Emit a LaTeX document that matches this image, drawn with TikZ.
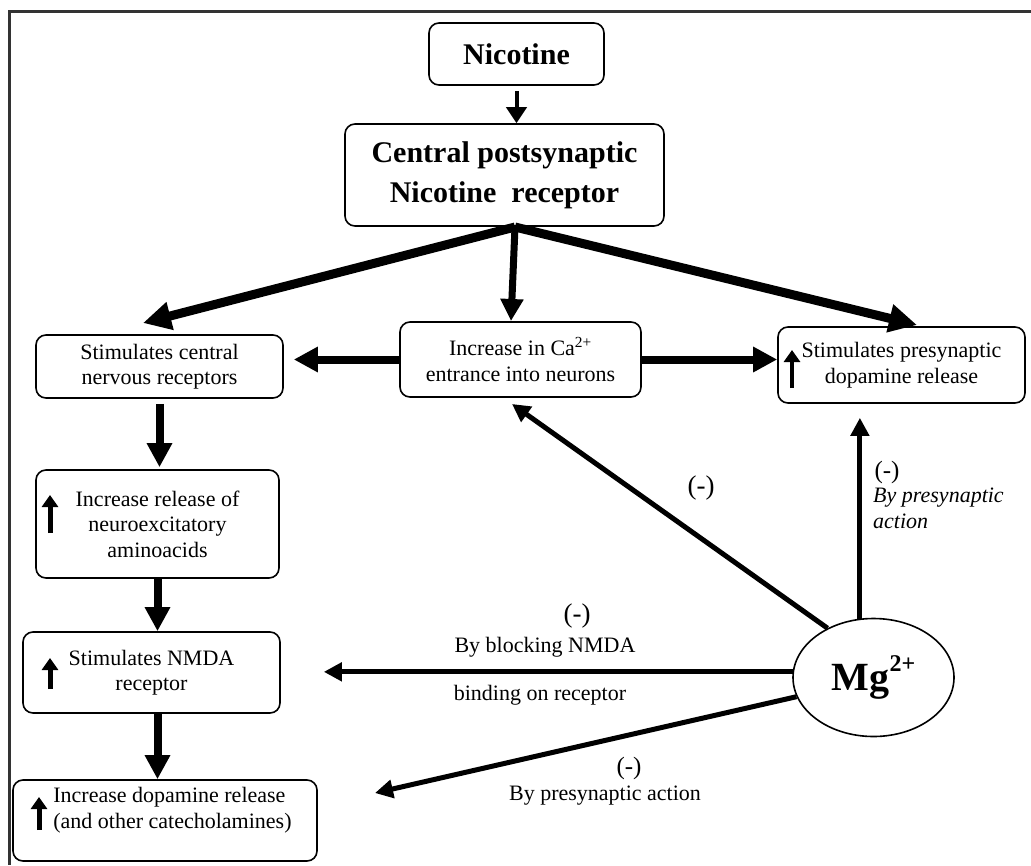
\documentclass[tikz,border=0pt]{standalone}
\usepackage{fontspec}
\setmainfont{Liberation Serif}
\usetikzlibrary{arrows.meta,shapes.geometric,calc}
\begin{document}
\begin{tikzpicture}[x=1pt,y=-1pt,
  boxnode/.style={draw, line width=1.6pt, rounded corners=10pt, align=center, inner sep=0pt,
    font=\fontsize{22}{25.5}\selectfont},
  headbox/.style={boxnode, font=\fontsize{30}{40}\selectfont\bfseries},
  fatarrow/.style={line width=8pt, -{Triangle[length=24pt,width=24pt]}},
  diagarrow/.style={line width=9pt, -{Triangle[length=28pt,width=27pt]}},
  midarrow/.style={line width=7pt, -{Triangle[length=22pt,width=22pt]}},
  thinarrow/.style={line width=4pt, -{Triangle[length=16pt,width=20pt]}},
  mgarrow/.style={line width=5pt, -{Triangle[length=18pt,width=18pt]}},
  uparrow/.style={line width=5pt, -{Triangle[length=12pt,width=16pt]}},
  lab/.style={inner sep=0pt, font=\fontsize{22}{25.5}\selectfont},
  minus/.style={inner sep=0pt},
]
\useasboundingbox (0,0) rectangle (1031,865);
% frame
\draw[line width=3pt, black!80] (1031,11) -- (9,11) -- (9,865);

% nodes
\node[headbox, minimum width=175pt, minimum height=62pt] (nic) at (516.5,54) {Nicotine};
\node[headbox, minimum width=319pt, minimum height=102pt] (central) at (504.5,175)
  {Central postsynaptic\\Nicotine\ \ receptor};
\node[boxnode, minimum width=247pt, minimum height=63pt] (stim) at (159.5,366.5)
  {Stimulates central\\nervous receptors};
\node[boxnode, minimum width=241pt, minimum height=75pt] (ca) at (520.5,359.5)
  {Increase in Ca\textsuperscript{2+}\\entrance into neurons};
\node[boxnode, minimum width=247pt, minimum height=76pt] (pre) at (901.5,365)
  {Stimulates presynaptic\\dopamine release};
\node[boxnode, minimum width=243pt, minimum height=108pt] (rel) at (157.5,524)
  {Increase release of\\neuroexcitatory\\aminoacids};
\node[boxnode, minimum width=257pt, minimum height=81pt] (nmda) at (151.5,672.5)
  {Stimulates NMDA\\receptor};
\node[boxnode, align=left, minimum width=304pt, minimum height=81pt] (dopa) at (165,820.5)
  {\hspace*{15pt}Increase dopamine release\\\hspace*{15pt}(and other catecholamines)\rule[-25pt]{0pt}{1pt}};
\node[draw, ellipse, line width=1.6pt, inner sep=0pt, minimum width=161pt, minimum height=118pt] (mg) at (873.5,677.5)
  {\fontsize{40}{44}\selectfont\bfseries Mg\raisebox{19pt}{\fontsize{24}{24}\selectfont 2+}};

% coordinates for free ends
\coordinate (apex) at (515,227);
\coordinate (tl) at (143,323);
\coordinate (tr) at (917,325);
\coordinate (tm) at (511,321);
\coordinate (tca) at (512,404);
\coordinate (tdop) at (375,793);

% connectors
\draw[thinarrow, shorten <=5pt] (nic.south) -- (nic.south |- central.north);
\draw[diagarrow] (apex) -- (tl);
\draw[diagarrow] (apex) -- (tr);
\draw[midarrow] (apex) -- (tm);
\draw[fatarrow, shorten >=10pt] (ca.west) -- (ca.west -| stim.east);
\draw[fatarrow] (ca.east) -- (ca.east -| pre.west);
\draw[fatarrow, shorten <=5pt, shorten >=2pt] (stim.south) -- (stim.south |- rel.north);
\draw[fatarrow] (rel.south) -- (rel.south |- nmda.north);
\draw[fatarrow] (rel.south |- nmda.south) -- (rel.south |- dopa.north);

\draw[mgarrow] (mg.133) -- (tca);
\draw[mgarrow, shorten >=14pt] (mg.103) -- (mg.103 |- pre.south);
\draw[mgarrow, shorten >=43pt] (mg.176) -- (mg.176 -| nmda.east);
\draw[mgarrow] (mg.194) -- (tdop);

% small up arrows inside boxes
\draw[uparrow] (50,533) -- (50,495);
\draw[uparrow] (50,689) -- (50,658);
\draw[uparrow] (39,830) -- (39,797);
\draw[uparrow, line width=4.5pt] (792,388) -- (792,350);

% labels
\node[minus, font=\fontsize{27}{30}\selectfont] (m1) at (701,487.5) {(-)};
\node[minus, font=\fontsize{25}{28}\selectfont] (m2) at (887,472) {(-)};
\node[lab, anchor=north west, align=left, font=\fontsize{22}{26}\selectfont\itshape] (l2) at (873,488)
  {By presynaptic\\action};
\node[minus, font=\fontsize{27}{30}\selectfont] (m3) at (577,616) {(-)};
\node[lab, anchor=base] (l3) at (545,652) {By blocking NMDA};
\node[lab, anchor=base] (l4) at (540,700) {binding on receptor};
\node[minus, font=\fontsize{25}{28}\selectfont] (m4) at (629,768) {(-)};
\node[lab, anchor=base] (l5) at (605,800) {By presynaptic action};
\end{tikzpicture}
\end{document}
